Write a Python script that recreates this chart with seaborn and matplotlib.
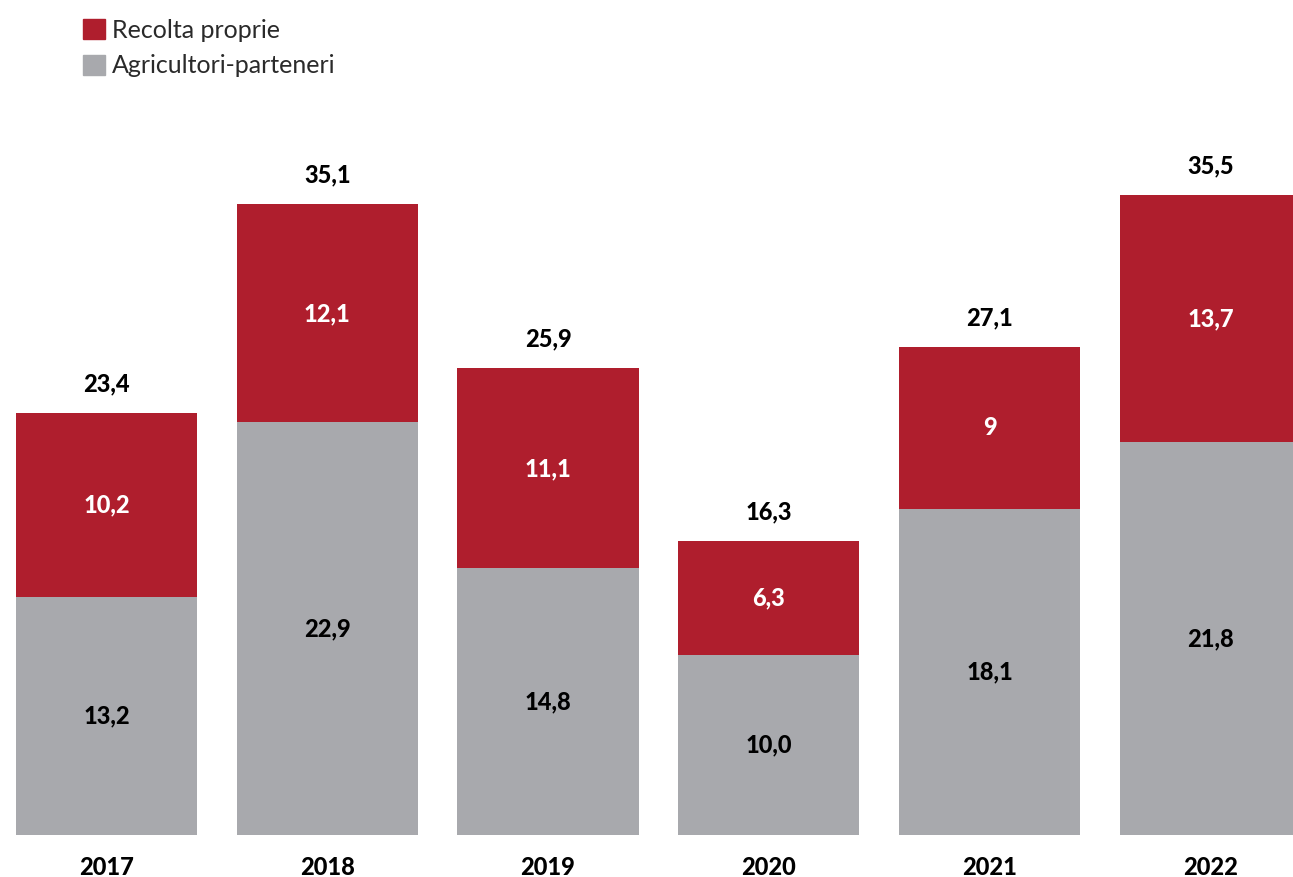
import matplotlib
matplotlib.use("Agg")
import matplotlib.pyplot as plt
import seaborn as sns
import pandas as pd
from matplotlib.patches import Patch

years = ["2017", "2018", "2019", "2020", "2021", "2022"]
recolta = [10.2, 12.1, 11.1, 6.3, 9.0, 13.7]
parteneri = [13.2, 22.9, 14.8, 10.0, 18.1, 21.8]
total_labels = ["23,4", "35,1", "25,9", "16,3", "27,1", "35,5"]
recolta_labels = ["10,2", "12,1", "11,1", "6,3", "9", "13,7"]
parteneri_labels = ["13,2", "22,9", "14,8", "10,0", "18,1", "21,8"]

RED = "#AF1E2D"
GRAY = "#A8A9AD"

sns.set_theme(style="white")
plt.rcParams["font.family"] = ["Lato", "DejaVu Sans"]

df = pd.DataFrame({"year": years, "recolta": recolta, "parteneri": parteneri})
df["total"] = df["recolta"] + df["parteneri"]

fig = plt.figure(figsize=(12.93, 8.77), dpi=100)
ax = fig.add_axes([0, 1 - 835 / 877, 1, (835 - 100) / 877])

# stacked: draw total in red, then partners in gray over it
sns.barplot(data=df, x="year", y="total", color=RED, width=0.82, saturation=1,
            linewidth=0, ax=ax)
sns.barplot(data=df, x="year", y="parteneri", color=GRAY, width=0.82, saturation=1,
            linewidth=0, ax=ax)

ax.set_xlim(-0.482, 5.374)
ax.set_ylim(0, 40.8)

NUM = dict(fontsize=17, fontweight="black")
for i in range(len(years)):
    ax.text(i, parteneri[i] / 2, parteneri_labels[i], ha="center", va="center",
            color="black", **NUM)
    ax.text(i, parteneri[i] + recolta[i] / 2, recolta_labels[i], ha="center", va="center",
            color="white", **NUM)
    ax.annotate(total_labels[i], (i, df["total"][i]), xytext=(0, 21),
                textcoords="offset points", ha="center", va="center",
                color="black", **NUM)

ax.set_xlabel("")
ax.set_ylabel("")
ax.set_yticks([])
ax.tick_params(axis="x", length=0, pad=15)
for lab in ax.get_xticklabels():
    lab.set_fontsize(17)
    lab.set_fontweight("black")
    lab.set_color("black")
sns.despine(ax=ax, left=True, bottom=True)

handles = [Patch(color=RED, label="Recolta proprie"),
           Patch(color=GRAY, label="Agricultori-parteneri")]
leg = fig.legend(handles=handles, loc="upper left", bbox_to_anchor=(0.05, 1.0),
                 frameon=False, fontsize=18, handlelength=0.85, handleheight=0.85,
                 handletextpad=0.3, labelspacing=0.5, borderaxespad=0.35)
for t in leg.get_texts():
    t.set_fontweight("normal")
    t.set_color("#2a2a2a")

fig.savefig("out.png", dpi=100)
